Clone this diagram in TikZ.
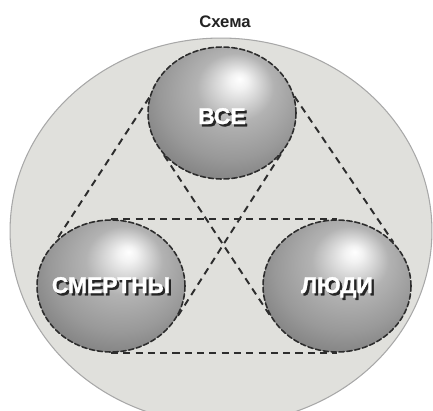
\documentclass[tikz,border=0pt]{standalone}
\usepackage{fontspec}
\setmainfont{Liberation Sans}
\newfontfamily\heavyfont[FakeBold=1.2]{Liberation Sans Bold}
\usetikzlibrary{shapes.geometric}
\definecolor{bgdisk}{RGB}{224,224,220}
\definecolor{diskrim}{RGB}{168,168,168}
\definecolor{dashgray}{RGB}{45,45,45}
\definecolor{titlegray}{RGB}{35,35,35}
\pgfdeclareradialshading{sphereshade}{\pgfpoint{6bp}{13bp}}{%
  color(0bp)=(white); color(3bp)=(white!95!black); color(13bp)=(black!30);
  color(24bp)=(black!40); color(34bp)=(black!52); color(50bp)=(black!54)}
\newcommand{\embossed}[1]{\rlap{\kern1.3pt\raisebox{-1.3pt}{\color{black!85}#1}}{\color{white}#1}}

\begin{document}
\begin{tikzpicture}[x=0.02cm,y=-0.02cm,line cap=round,line join=round,
    sphere/.style={ellipse,minimum width=2.96cm,minimum height=2.64cm,inner sep=0pt,
      shading=sphereshade,draw=dashgray,line width=0.9pt,dash pattern=on 3pt off 1.5pt},
    word/.style={font=\fontsize{13}{15}\selectfont\heavyfont,inner sep=0pt,
      text height=9.3pt,text depth=1.3pt},
    hull/.style={draw=dashgray,line width=1.1pt,dash pattern=on 4pt off 3pt,line cap=butt}]
  \useasboundingbox (0,0) rectangle (433,410);
  \clip (0,0) rectangle (433,410);
  \draw[fill=bgdisk,draw=diskrim,line width=0.6pt] (221,231) ellipse [x radius=4.22cm,y radius=3.86cm];

  \node[font=\fontsize{9.5}{11}\selectfont\bfseries,text=titlegray] (title) at (225,22) {Схема};

  \node[sphere,label={[word,yshift=-0.08cm]center:\embossed{ВСЕ}}] (vse) at (222,113) {};
  \node[sphere,label={[word]center:\embossed{СМЕРТНЫ}}] (smertny) at (111,286) {};
  \node[sphere,label={[word]center:\embossed{ЛЮДИ}}] (lyudi) at (337,286) {};

  \draw[hull] (vse.168) -- (smertny.141);
  \draw[hull] (vse.325) -- (smertny.335);
  \draw[hull] (vse.13) -- (lyudi.38);
  \draw[hull] (vse.216) -- (lyudi.203);
  \draw[hull] (smertny.90) -- (lyudi.90);
  \draw[hull] (smertny.270) -- (lyudi.270);
\end{tikzpicture}
\end{document}
